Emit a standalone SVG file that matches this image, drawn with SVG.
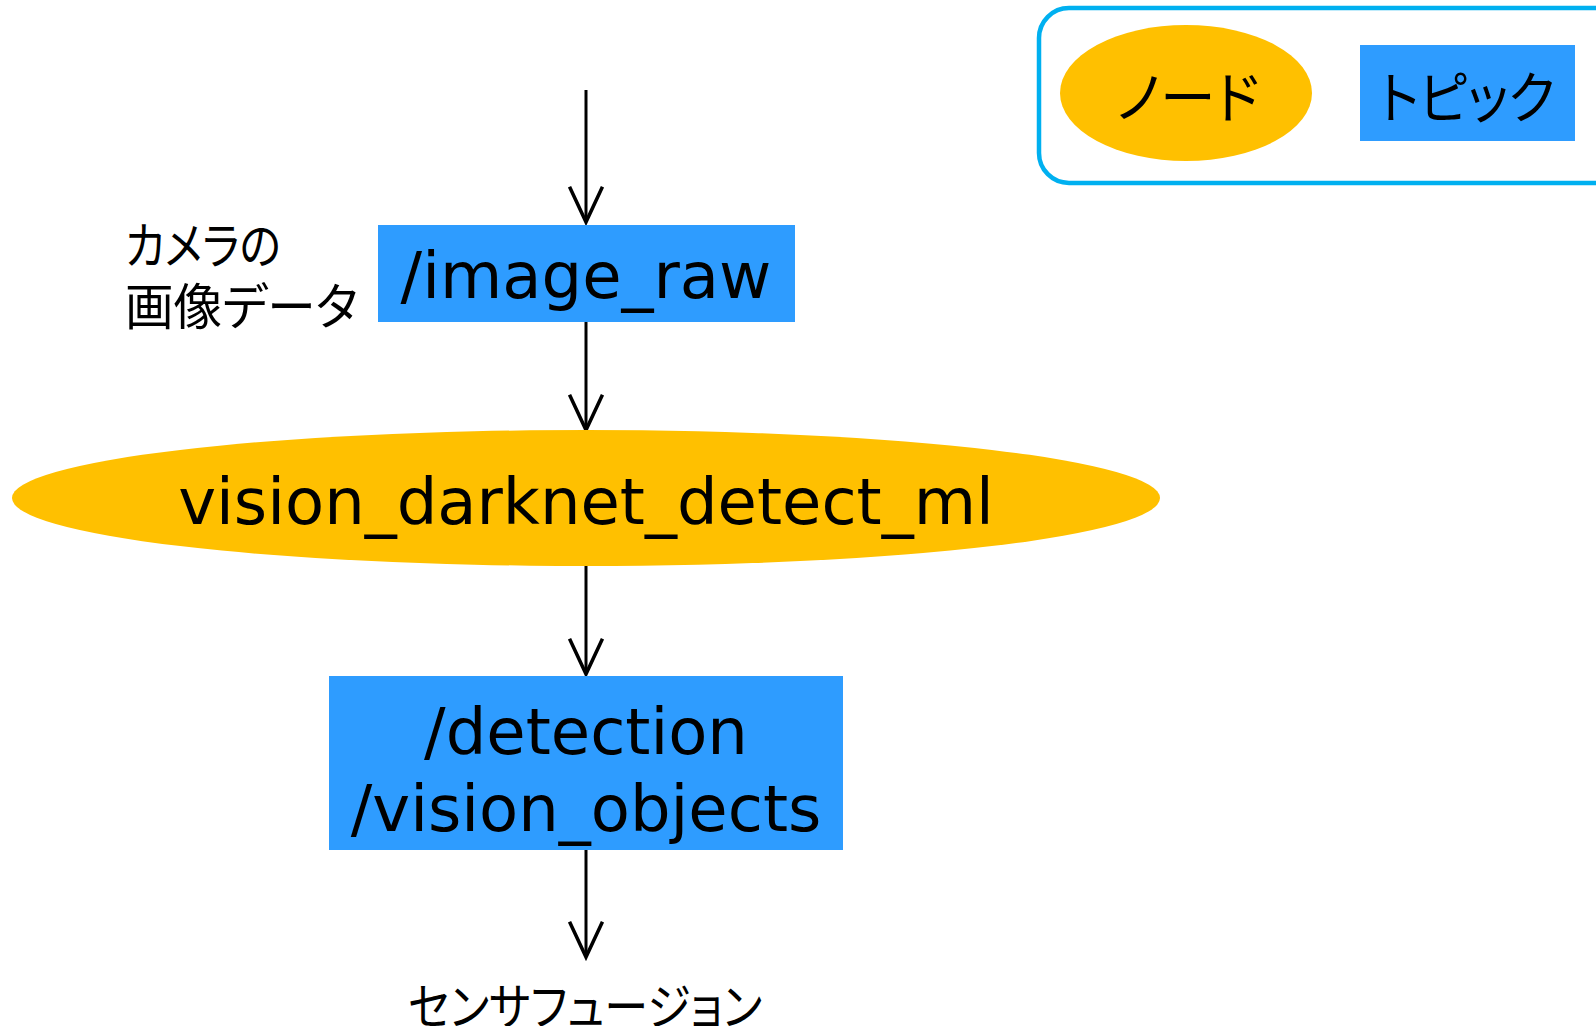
<svg xmlns="http://www.w3.org/2000/svg" width="1596" height="1026" viewBox="0 0 1596 1026">
  <style>
    .topic { fill: #2E9CFF; }
    .node { fill: #FFC000; }
    .lbl { font-family: "DejaVu Sans", "Noto Sans CJK JP", sans-serif; font-size: 64px; fill: #000; text-anchor: middle; }
    .jp { font-family: "Noto Sans CJK JP", sans-serif; fill: #000; font-feature-settings: "palt" 1; }
    .edge { stroke: #000; stroke-width: 3; fill: none; marker-end: url(#head); }
  </style>
  <defs>
    <marker id="head" markerUnits="userSpaceOnUse" orient="auto" refX="0" refY="0" markerWidth="40" markerHeight="40" viewBox="-32 -16 34 32" overflow="visible">
      <path d="M-30,-14 L0,0 L-30,14" fill="none" stroke="#000" stroke-width="3"/>
    </marker>
  </defs>
  <rect width="1596" height="1026" fill="#fff"/>

  <!-- legend -->
  <g id="legend">
    <rect x="1039" y="8" width="600" height="175" rx="30" fill="#fff" stroke="#00B0F0" stroke-width="4.5"/>
    <ellipse class="node" cx="1186" cy="93" rx="126" ry="68"/>
    <text class="jp" x="1188" y="93" font-size="56" text-anchor="middle" dominant-baseline="central" textLength="143" lengthAdjust="spacingAndGlyphs">ノード</text>
    <rect class="topic" x="1360" y="45" width="215" height="96"/>
    <text class="jp" x="1467" y="93" font-size="56" text-anchor="middle" dominant-baseline="central" textLength="176" lengthAdjust="spacingAndGlyphs">トピック</text>
  </g>

  <!-- connectors -->
  <g id="edges">
    <line class="edge" x1="586" y1="90" x2="586" y2="222"/>
    <line class="edge" x1="586" y1="322" x2="586" y2="430"/>
    <line class="edge" x1="586" y1="566" x2="586" y2="674"/>
    <line class="edge" x1="586" y1="850" x2="586" y2="957"/>
  </g>

  <g id="camera-label">
    <text class="jp" font-size="50" x="125" y="242" dominant-baseline="central" textLength="156" lengthAdjust="spacingAndGlyphs">カメラの</text>
    <text class="jp" font-size="50" x="125" y="303" dominant-baseline="central" textLength="233" lengthAdjust="spacingAndGlyphs">画像データ</text>
  </g>

  <g id="image_raw">
    <rect class="topic" x="378" y="225" width="417" height="97"/>
    <text class="lbl" x="586" y="298">/image_raw</text>
  </g>

  <g id="vision_darknet_detect_ml">
    <ellipse class="node" cx="586" cy="498" rx="574" ry="68"/>
    <text class="lbl" x="586" y="524">vision_darknet_detect_ml</text>
  </g>

  <g id="detection_vision_objects">
    <rect class="topic" x="329" y="676" width="514" height="174"/>
    <text class="lbl" x="586" y="754">/detection</text>
    <text class="lbl" x="586" y="831">/vision_objects</text>
  </g>

  <g id="sensor-fusion">
    <text class="jp" font-size="50" x="585" y="1003" text-anchor="middle" dominant-baseline="central" textLength="354" lengthAdjust="spacingAndGlyphs">センサフュージョン</text>
  </g>
</svg>
